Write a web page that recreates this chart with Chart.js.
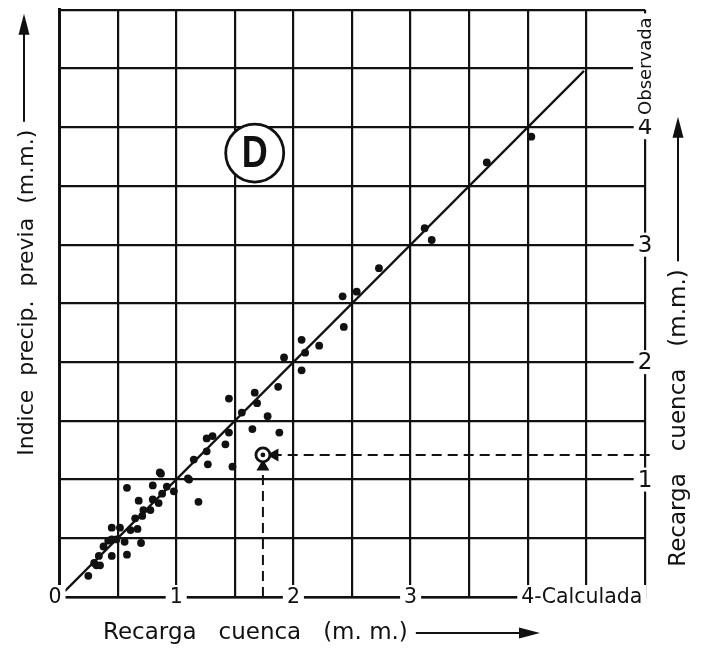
<!DOCTYPE html>
<html><head><meta charset="utf-8">
<script src="https://cdn.jsdelivr.net/npm/chart.js@4/dist/chart.umd.min.js"></script>
<style>html,body{margin:0;background:#fff;}canvas{display:block;}</style>
</head><body>
<canvas id="c" width="706" height="651"></canvas>
<script>
(() => {
  // Observed points (Recarga calculada, Recarga observada), mm
  const obsX=[4.03,3.65,3.12,3.18,2.73,2.42,2.54,2.43,2.07,2.10,2.22,1.92,2.07,1.87,1.67,1.69,1.45,1.56,1.78,1.65,1.88,1.45,1.42,1.26,1.31,1.26,1.27,1.15,1.48,1.11,1.19,0.98,0.87,0.80,0.92,0.88,0.80,0.85,0.78,0.68,0.58,0.72,0.71,0.65,0.67,0.61,0.52,0.45,0.45,0.49,0.56,0.70,0.38,0.45,0.58,0.34,0.30,0.32,0.35,0.25,0.42,0.86,1.10];
  const obsY=[3.92,3.70,3.14,3.04,2.80,2.56,2.60,2.30,2.19,2.08,2.14,2.04,1.93,1.79,1.74,1.65,1.69,1.57,1.54,1.43,1.40,1.40,1.30,1.35,1.37,1.24,1.13,1.17,1.11,1.00,0.81,0.90,1.05,0.95,0.94,0.88,0.83,0.80,0.74,0.82,0.93,0.74,0.69,0.67,0.58,0.57,0.59,0.59,0.49,0.49,0.47,0.46,0.43,0.35,0.36,0.35,0.29,0.27,0.27,0.18,0.48,1.06,1.01];
  // 1:1 line
  const fitX=[0.05,4.48], fitY=[0.05,4.48];
  // worked example + reading guides
  const exX=[1.74], exY=[1.21];
  const guideVX=[1.74,1.74], guideVY=[0,1.11];
  const guideHX=[5.04,1.84], guideHY=[1.21,1.21];
  // axis labels
  const xTickVals=[0,1,2,3,4], xTickText=['0','1','2','3','4-Calculada'];
  const yTickVals=[1,2,3,4], yTickText=['1','2','3','4'];
  const yTopVal=4.52, yTopText='Observada';
  const badgeX=1.67, badgeY=3.78, badgeText='D';

  const INK='#111', FONT='"DejaVu Sans", sans-serif';
  const pts=(xs,ys)=>xs.map((x,i)=>({x,y:ys[i]}));

  function arrowUp(ctx,x,y0,tip){
    ctx.beginPath(); ctx.moveTo(x,y0); ctx.lineTo(x,tip+16); ctx.stroke();
    ctx.beginPath(); ctx.moveTo(x,tip); ctx.lineTo(x-5.5,tip+21); ctx.lineTo(x+5.5,tip+21); ctx.closePath(); ctx.fill();
  }
  function arrowRight(ctx,y,x0,tip){
    ctx.beginPath(); ctx.moveTo(x0,y); ctx.lineTo(tip-16,y); ctx.stroke();
    ctx.beginPath(); ctx.moveTo(tip,y); ctx.lineTo(tip-21,y-5.5); ctx.lineTo(tip-21,y+5.5); ctx.closePath(); ctx.fill();
  }
  function tag(ctx,t,x,y,align){
    const w=ctx.measureText(t).width;
    const left=align==='left'?x:x-w/2;
    ctx.fillStyle='#fff'; ctx.fillRect(left-4,y-12,w+8,24);
    ctx.fillStyle=INK; ctx.textAlign='left'; ctx.fillText(t,left,y+1);
  }

  const paper={id:'paper',afterDraw(ch){
    const {ctx,chartArea:a,scales:{x,y}}=ch;
    ctx.save();
    ctx.textBaseline='middle'; ctx.fillStyle=INK; ctx.strokeStyle=INK; ctx.lineWidth=2;

    // bottom tick labels sit on the frame
    ctx.font=`20.5px ${FONT}`;
    xTickVals.forEach((v,i)=>{
      const t=xTickText[i], lead=ctx.measureText(t.charAt(0)).width;
      let px=x.getPixelForValue(v)-lead/2; if(i===0) px-=4;
      tag(ctx,t,px,a.bottom,'left');
    });
    // right tick labels
    ctx.font=`23px ${FONT}`;
    yTickVals.forEach((v,i)=>tag(ctx,yTickText[i],a.right,y.getPixelForValue(v),'center'));
    ctx.save();
    ctx.font=`18px ${FONT}`;
    ctx.translate(a.right,y.getPixelForValue(yTopVal)); ctx.rotate(-Math.PI/2);
    tag(ctx,yTopText,0,0,'center');
    ctx.restore();

    // badge
    const bx=x.getPixelForValue(badgeX), by=y.getPixelForValue(badgeY);
    ctx.beginPath(); ctx.arc(bx,by,29,0,Math.PI*2); ctx.fillStyle='#fff'; ctx.fill();
    ctx.lineWidth=2.8; ctx.stroke();
    ctx.save(); ctx.translate(bx,by+2); ctx.scale(0.8,1);
    ctx.font='bold 45px "Liberation Sans", sans-serif'; ctx.textAlign='center'; ctx.fillStyle=INK;
    ctx.fillText(badgeText,0,0); ctx.restore();
    ctx.lineWidth=2;

    // bottom title
    ctx.font=`23px ${FONT}`; ctx.fillStyle=INK; ctx.textAlign='left';
    const bt='Recarga   cuenca   (m. m.)', bl=a.left+44, bty=a.bottom+36;
    ctx.fillText(bt,bl,bty);
    arrowRight(ctx,bty,bl+ctx.measureText(bt).width+8,a.left+481);

    // left title
    ctx.save(); ctx.font=`22px ${FONT}`;
    const lt='Indice  precip.  previa  (m.m.)';
    ctx.translate(27,a.top+446); ctx.rotate(-Math.PI/2); ctx.fillText(lt,0,0);
    const lw=ctx.measureText(lt).width; ctx.restore();
    arrowUp(ctx,24,a.top+446-lw-8,a.top+4);

    // right title
    ctx.save(); ctx.font=`23px ${FONT}`;
    const rt='Recarga   cuenca   (m.m.)';
    ctx.translate(a.right+34,a.top+557); ctx.rotate(-Math.PI/2); ctx.fillText(rt,0,0);
    const rw=ctx.measureText(rt).width; ctx.restore();
    arrowUp(ctx,a.right+33,a.top+557-rw-8,a.top+107);

    ctx.restore();
  }};

  new Chart(document.getElementById('c'),{
    type:'scatter',
    data:{datasets:[
      {data:pts(exX,exY),pointRadius:2.4,backgroundColor:INK,borderWidth:0},
      {data:pts(exX,exY),pointRadius:7,backgroundColor:'#fff',borderColor:INK,borderWidth:2.8},
      {type:'line',data:pts(guideVX,guideVY),borderColor:INK,borderWidth:2,borderDash:[10,6],
       pointStyle:'triangle',pointRadius:[0,5.5],pointBackgroundColor:INK,pointBorderColor:INK,pointRotation:0,clip:false},
      {type:'line',data:pts(guideHX,guideHY),borderColor:INK,borderWidth:2,borderDash:[10,6],
       pointStyle:'triangle',pointRadius:[0,5.5],pointBackgroundColor:INK,pointBorderColor:INK,pointRotation:270,clip:false},
      {data:pts(obsX,obsY),pointRadius:3.9,backgroundColor:INK,borderWidth:0},
      {type:'line',data:pts(fitX,fitY),borderColor:INK,borderWidth:2.2,pointRadius:0}
    ]},
    options:{
      responsive:false,animation:false,
      layout:{padding:{left:59,right:61,top:8,bottom:54}},
      plugins:{legend:{display:false},tooltip:{enabled:false}},
      scales:{
        x:{type:'linear',min:0,max:5,ticks:{display:false,stepSize:0.5},
           grid:{color:INK,lineWidth:2.2,drawTicks:false},border:{color:INK,width:2.4}},
        y:{type:'linear',min:0,max:5,ticks:{display:false,stepSize:0.5},
           grid:{color:INK,lineWidth:2.2,drawTicks:false},border:{color:INK,width:3}}
      }
    },
    plugins:[paper]
  });
})();
</script>
</body></html>
